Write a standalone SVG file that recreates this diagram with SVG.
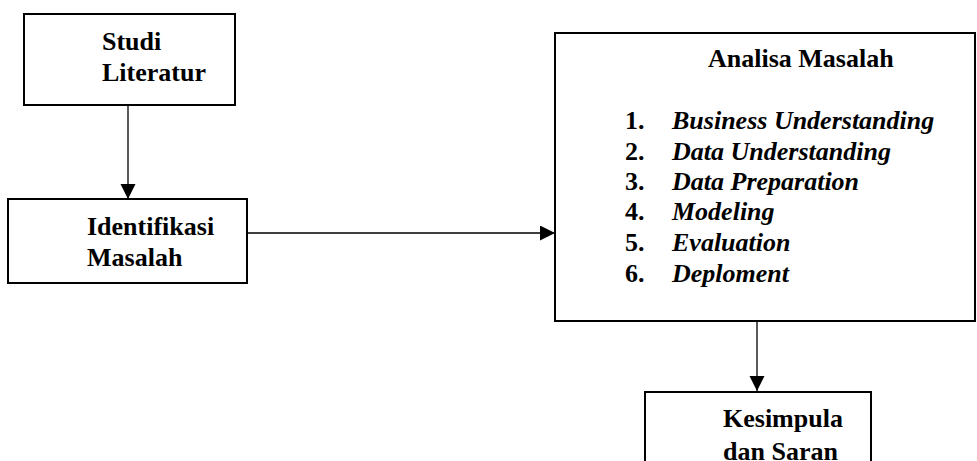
<svg xmlns="http://www.w3.org/2000/svg" width="977" height="461" viewBox="0 0 977 461">
<style>
.box{fill:#fff;stroke:#000;stroke-width:2}
.t{font-family:"Liberation Serif","Times New Roman",serif;font-weight:bold;font-size:26px;fill:#000}
.i{font-style:italic}
.c{stroke:#000;stroke-width:1.3;fill:none}
</style>
<defs>
<marker id="ah" markerUnits="userSpaceOnUse" markerWidth="16" markerHeight="16" refX="15" refY="7.5" orient="auto">
<path d="M0,0 L15,7.5 L0,15 Z" fill="#000"/>
</marker>
</defs>
<rect width="977" height="461" fill="#fff"/>
<g id="connectors">
<line class="c" x1="128" y1="105" x2="128" y2="199" marker-end="url(#ah)"/>
<line class="c" x1="247" y1="233" x2="555" y2="233" marker-end="url(#ah)"/>
<line class="c" x1="757" y1="321" x2="757" y2="391" marker-end="url(#ah)"/>
</g>
<g id="studi-literatur">
<rect class="box" x="24" y="14" width="211" height="91"/>
<text class="t" x="102" y="50">Studi</text>
<text class="t" x="102" y="81">Literatur</text>
</g>
<g id="identifikasi-masalah">
<rect class="box" x="8" y="199" width="239" height="84"/>
<text class="t" x="87" y="235">Identifikasi</text>
<text class="t" x="87" y="266">Masalah</text>
</g>
<g id="analisa-masalah">
<rect class="box" x="555" y="33" width="420" height="288"/>
<text class="t" x="708" y="67">Analisa Masalah</text>
<text class="t" x="625" y="129">1.</text><text class="t i" x="672" y="129">Business Understanding</text>
<text class="t" x="625" y="160">2.</text><text class="t i" x="672" y="160">Data Understanding</text>
<text class="t" x="625" y="190">3.</text><text class="t i" x="672" y="190">Data Preparation</text>
<text class="t" x="625" y="220">4.</text><text class="t i" x="672" y="220">Modeling</text>
<text class="t" x="625" y="251">5.</text><text class="t i" x="672" y="251">Evaluation</text>
<text class="t" x="625" y="282">6.</text><text class="t i" x="672" y="282">Deploment</text>
</g>
<g id="kesimpulan-saran">
<rect class="box" x="645" y="392" width="226" height="80"/>
<text class="t" x="723" y="427">Kesimpula</text>
<text class="t" x="723" y="460">dan Saran</text>
</g>
</svg>
